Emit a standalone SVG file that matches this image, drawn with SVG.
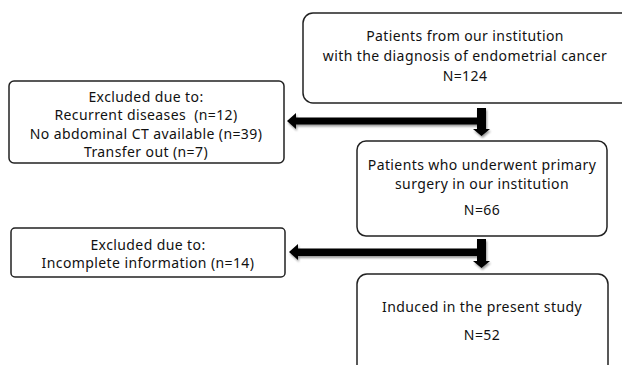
<svg xmlns="http://www.w3.org/2000/svg" width="622" height="365" viewBox="0 0 622 365">
<defs>
<style>
.box{fill:#fff;stroke:#222;stroke-width:1.5}
.t{font-family:"Noto Sans","Liberation Sans",sans-serif;font-size:14px;letter-spacing:0.4px;fill:#111;text-anchor:middle}
.bar{fill:#000;stroke:none}
</style>
<filter id="sh" x="-10%" y="-30%" width="120%" height="160%">
<feGaussianBlur in="SourceAlpha" stdDeviation="1.2"/>
<feOffset dx="1" dy="1.5" result="o"/>
<feComponentTransfer><feFuncA type="linear" slope="0.4"/></feComponentTransfer>
<feMerge><feMergeNode/><feMergeNode in="SourceGraphic"/></feMerge>
</filter>
</defs>
<rect width="622" height="365" fill="#fff"/>
<g id="connectors" filter="url(#sh)">
<path class="bar" d="M477,108 H486 V129 H490 L481.5,136 L473,129 H477 V124.5 H296 V129 L287,121 L296,113 V117.5 H477 Z"/>
<path class="bar" d="M477,239 H486 V261 H490 L481.5,268 L473,261 H477 V256 H298 V260 L289,252 L298,244 V248.5 H477 Z"/>
</g>
<g id="n1">
<rect class="box" x="303" y="13" width="330" height="90" rx="10"/>
<text class="t" x="465" y="41">Patients from our institution</text>
<text class="t" x="465" y="61">with the diagnosis of endometrial cancer</text>
<text class="t" x="465" y="81">N=124</text>
</g>
<g id="n2">
<rect class="box" x="9" y="81" width="275" height="82" rx="5"/>
<text class="t" x="146" y="102">Excluded due to:</text>
<text class="t" x="146" y="120">Recurrent diseases&#160; (n=12)</text>
<text class="t" x="146" y="139">No abdominal CT available (n=39)</text>
<text class="t" x="146" y="157">Transfer out (n=7)</text>
</g>
<g id="n3">
<rect class="box" x="357" y="141" width="250" height="95" rx="9"/>
<text class="t" x="482" y="170">Patients who underwent primary</text>
<text class="t" x="482" y="189">surgery in our institution</text>
<text class="t" x="482" y="215">N=66</text>
</g>
<g id="n4">
<rect class="box" x="11" y="228" width="274" height="49" rx="4"/>
<text class="t" x="148" y="250">Excluded due to:</text>
<text class="t" x="148" y="268">Incomplete information (n=14)</text>
</g>
<g id="n5">
<rect class="box" x="357" y="274" width="251" height="110" rx="10"/>
<text class="t" x="482" y="312">Induced in the present study</text>
<text class="t" x="482" y="340">N=52</text>
</g>
</svg>
